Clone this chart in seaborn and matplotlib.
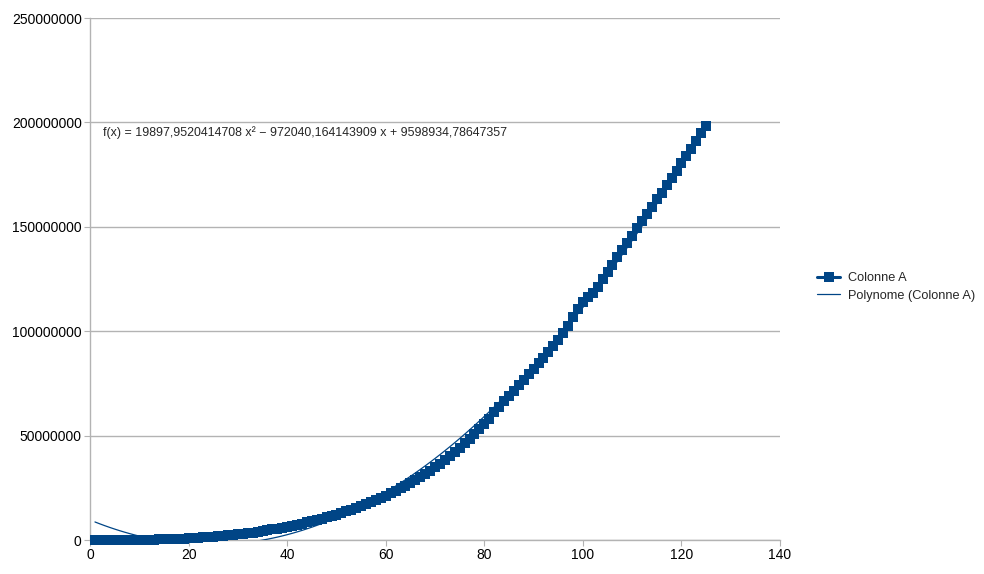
import numpy as np
import pandas as pd
import seaborn as sns
import matplotlib.pyplot as plt
from matplotlib.ticker import FuncFormatter

# values (millions)
x_vals = list(range(1, 126))
y_millions = [
    0.0, 0.0, 0.0, 0.01, 0.01, 0.02, 0.03, 0.05, 0.07, 0.1,
    0.13, 0.17, 0.22, 0.27, 0.34, 0.41, 0.49, 0.58, 0.69, 0.8,
    0.93, 1.06, 1.22, 1.38, 1.56, 1.76, 1.97, 2.2, 2.44, 2.7,
    2.98, 3.28, 3.6, 3.93, 4.29, 4.67, 5.07, 5.49, 5.93, 6.4,
    6.8, 7.3, 7.8, 8.4, 9.0, 9.6, 10.2, 10.8, 11.4, 12.1,
    12.9, 13.7, 14.5, 15.4, 16.3, 17.2, 18.2, 19.2, 20.2, 21.3,
    22.4, 23.6, 24.8, 26.1, 27.4, 28.8, 30.2, 31.7, 33.2, 34.8,
    36.6, 38.4, 40.3, 42.3, 44.3, 46.4, 48.6, 50.9, 53.2, 55.6,
    58.1, 61.1, 63.8, 66.4, 69.0, 71.6, 74.2, 76.8, 79.4, 82.0,
    84.6, 87.2, 89.9, 92.7, 95.6, 99.0, 102.6, 106.6, 110.6, 114.0,
    116.3, 118.3, 121.4, 124.9, 128.4, 131.9, 135.4, 138.9, 142.3, 145.6,
    149.5, 152.9, 156.3, 159.6, 163.1, 166.4, 169.9, 173.4, 176.9, 180.4,
    183.9, 187.5, 191.1, 194.8, 198.5,
]

# trend line coefficients as printed on the chart
coef_a = 19897.9520414708
coef_b = -972040.164143909
coef_c = 9598934.78647357
equation = "f(x) = 19897,9520414708 x² − 972040,164143909 x + 9598934,78647357"

series_name = "Colonne A"
trend_name = "Polynome (Colonne A)"
blue = "#004586"

df = pd.DataFrame({"x": x_vals, "y": np.array(y_millions) * 1e6})
df["trend"] = np.polyval([coef_a, coef_b, coef_c], df["x"])

sns.set_style("white")
plt.rcParams["font.family"] = ["Liberation Sans", "DejaVu Sans"]

fig = plt.figure(figsize=(9.84, 5.74), dpi=100)
ax = fig.add_axes([0.0915, 0.0592, 0.7012, 0.9094])

sns.lineplot(data=df, x="x", y="y", ax=ax, color=blue, linewidth=2.2,
             marker="s", markersize=7.8, markeredgewidth=0, label=series_name,
             clip_on=False, zorder=3)
sns.lineplot(data=df, x="x", y="trend", ax=ax, color=blue, linewidth=0.9,
             label=trend_name, zorder=4)

ax.set_xlim(0, 140)
ax.set_ylim(0, 250e6)
ax.set_xticks(range(0, 141, 20))
ax.set_yticks(np.arange(0, 250e6 + 1, 50e6))
ax.yaxis.set_major_formatter(FuncFormatter(lambda v, p: f"{int(v)}"))
ax.set_xlabel("")
ax.set_ylabel("")

ax.yaxis.grid(True, color="#b3b3b3", linewidth=1)
ax.xaxis.grid(False)
ax.set_axisbelow(True)
for s in ["top", "right"]:
    ax.spines[s].set_visible(False)
for s in ["left", "bottom"]:
    ax.spines[s].set_color("#b3b3b3")
    ax.spines[s].set_linewidth(1)
ax.tick_params(axis="both", which="both", length=4, color="#b3b3b3",
               labelsize=10, labelcolor="black", direction="out")
ax.tick_params(axis="y", left=True, pad=2)
ax.tick_params(axis="x", bottom=True, pad=2)

ax.text(2.6, 195e6, equation, fontsize=8.9, va="center", ha="left")

handles, labels = ax.get_legend_handles_labels()
ax.legend(handles, labels, loc="center left", bbox_to_anchor=(0.8186, 0.5),
          bbox_transform=fig.transFigure, frameon=False, fontsize=9.2,
          handlelength=1.8, handletextpad=0.62, labelspacing=0.45)

fig.savefig("out.png", dpi=100)
